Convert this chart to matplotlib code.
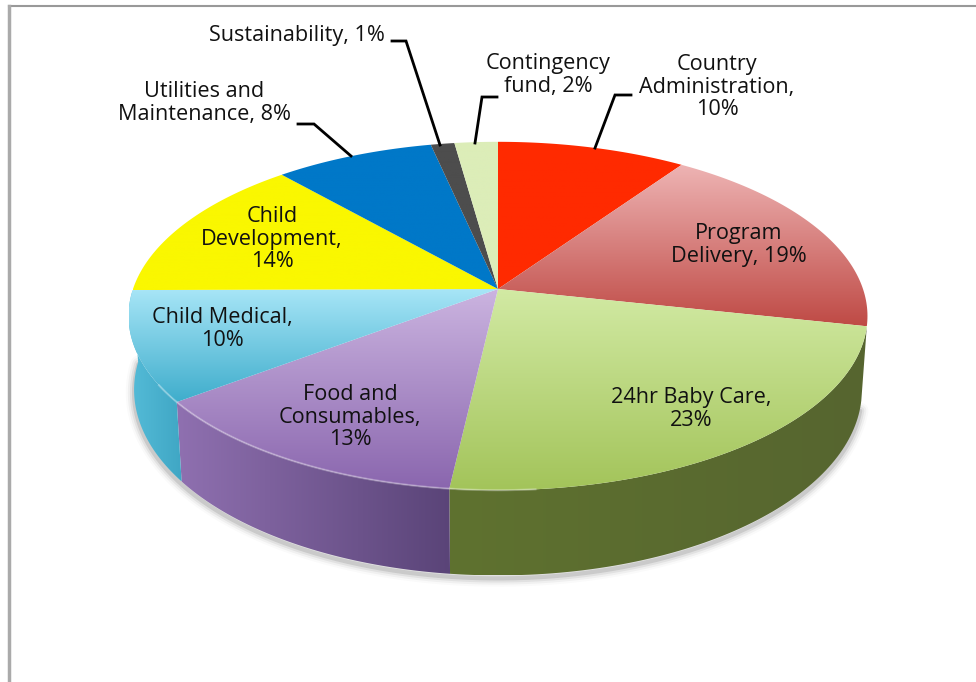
import numpy as np
import matplotlib.pyplot as plt
from matplotlib.colors import to_rgb
from matplotlib.patches import Polygon

plt.rcParams["font.family"] = "Open Sans"
plt.rcParams["font.size"] = 15.6

labels = ['Country\nAdministration,\n10%', 'Program\nDelivery, 19%', '24hr Baby Care,\n23%',
          'Food and\nConsumables,\n13%', 'Child Medical,\n10%', 'Child\nDevelopment,\n14%',
          'Utilities and\nMaintenance, 8%', 'Sustainability, 1%', 'Contingency\nfund, 2%']
# read from the slice boundaries, they round to the printed percentages
values = [9.6, 18.8, 23.4, 12.9, 10.2, 13.6, 8.1, 1.2, 2.2]

# top face colours, (upper, lower) of the gradient
top_cols = [('#ff2a00', '#ff2a00'), ('#eeb4b4', '#bf4a45'), ('#d2eaa4', '#a3c45a'),
            ('#cbb4e0', '#8a66ae'), ('#a8e6f7', '#3fadcc'), ('#faf700', '#faf700'),
            ('#0078c8', '#0078c8'), ('#4d4d4d', '#4d4d4d'), ('#dcedb8', '#dcedb8')]
# side wall colours, (left, right)
wall_cols = [None, None, ('#5f7230', '#56652f'), ('#8f70b0', '#5a4478'),
             ('#55bcd8', '#3fa6c4')]

label_pos = [(717, 87), (739, 245), (691, 409), (350, 417), (222, 329), (272, 239),
             (204, 103), (297, 35), (548, 75)]
leaders = {0: [(631, 95), (615, 95), (595, 148)],
           6: [(298, 124), (314, 124), (351, 156)],
           7: [(392, 41), (406, 41), (440, 145)],
           8: [(497, 97), (482, 97), (475, 143)]}

hub_x, hub_y = 498, 289
rx, ry, persp, depth = 365, 170, 0.155, 72
low_scale = 0.985


def project(t):
    den = 1 + persp * np.cos(t)
    return hub_x + rx * np.sin(t) / den, hub_y - ry * np.cos(t) / den


def wall_low(t):
    den = 1 + persp * np.cos(t)
    x, y = project(t)
    return hub_x + (x - hub_x) * low_scale, y + depth / den


def grad_fill(ax, pts, c0, c1, horizontal=False, zorder=2):
    pts = np.array(pts)
    x0, x1 = pts[:, 0].min(), pts[:, 0].max()
    y0, y1 = pts[:, 1].min(), pts[:, 1].max()
    s = np.linspace(0, 1, 200)[:, None]
    img = (1 - s) * np.array(to_rgb(c0)) + s * np.array(to_rgb(c1))
    img = img[None, :, :] if horizontal else img[:, None, :]
    im = ax.imshow(img, extent=(x0, x1, y1, y0), aspect='auto', zorder=zorder)
    im.set_clip_path(Polygon(pts, closed=True, transform=ax.transData))


fig = plt.figure(figsize=(9.76, 6.82), dpi=100)
ax = fig.add_axes([0, 0, 1, 1])
ax.set_xlim(0, 976)
ax.set_ylim(682, 0)
ax.axis('off')

# page frame
ax.plot([9, 976], [6, 6], color='#999999', lw=1.5, zorder=1)
ax.plot([9, 9], [6, 682], color='#aaaaaa', lw=2.5, zorder=1)

edges = np.cumsum([0] + values) / sum(values) * 2 * np.pi

# soft shadow under the body
t_low = np.linspace(np.pi * 0.58, np.pi * 1.5, 200)
sx, sy = wall_low(t_low)
for w, a in zip([12, 9, 6, 3], [0.02, 0.04, 0.06, 0.1]):
    ax.plot(sx, sy + 3, color='black', lw=w, alpha=a, zorder=1.5, solid_capstyle='round')

# side walls
for i, col in enumerate(wall_cols):
    if col is None:
        continue
    a = max(edges[i], np.pi * 0.5)
    b = min(edges[i + 1], np.pi * 1.5)
    t = np.linspace(a, b, 80)
    ux, uy = project(t)
    lx, ly = wall_low(t)
    pts = np.r_[np.c_[ux, uy], np.c_[lx, ly][::-1]]
    grad_fill(ax, pts, col[0], col[1], horizontal=True, zorder=2)

# top faces
for i, (c0, c1) in enumerate(top_cols):
    t = np.linspace(edges[i], edges[i + 1], 80)
    x, y = project(t)
    pts = np.r_[[(hub_x, hub_y)], np.c_[x, y]]
    grad_fill(ax, pts, c0, c1, zorder=3)

# light edge along the front of the rim
t_rim = np.linspace(edges[3] - 0.2, edges[4] + 0.1, 100)
rim_x, rim_y = project(t_rim)
ax.plot(rim_x, rim_y, color='white', lw=1.5, alpha=0.3, zorder=4)

for pts in leaders.values():
    ax.plot(*zip(*pts), color='black', lw=2, zorder=5, solid_joinstyle='miter')

for lab, (x, y) in zip(labels, label_pos):
    ax.text(x, y, lab, ha='center', va='center', color='#111111', linespacing=1.12, zorder=6)

fig.savefig('out.png', dpi=100)
